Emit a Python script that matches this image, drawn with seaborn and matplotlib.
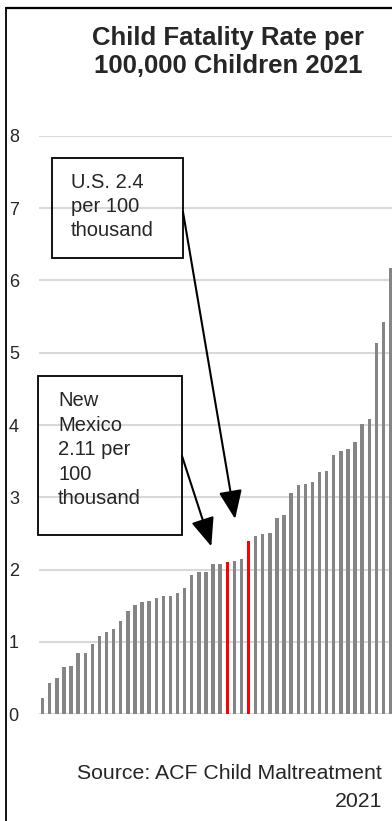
import matplotlib
matplotlib.use("Agg")
import matplotlib.pyplot as plt
from matplotlib.patches import Rectangle
from matplotlib.lines import Line2D
import seaborn as sns
import pandas as pd

# Child fatality rate per 100,000 children, 2021, sorted ascending
rank = list(range(1, 51))
rates = [0.22, 0.43, 0.50, 0.65, 0.67, 0.85, 0.85, 0.97, 1.08, 1.14,
         1.18, 1.29, 1.43, 1.51, 1.55, 1.57, 1.60, 1.64, 1.64, 1.68,
         1.74, 1.93, 1.96, 1.96, 2.07, 2.08, 2.11, 2.12, 2.15, 2.4,
         2.46, 2.49, 2.51, 2.71, 2.76, 3.06, 3.17, 3.18, 3.21, 3.35,
         3.36, 3.59, 3.64, 3.67, 3.76, 4.01, 4.08, 5.13, 5.43, 6.17]
nm_rank = 27   # New Mexico
us_rank = 30   # U.S. overall
y_ticks = [0, 1, 2, 3, 4, 5, 6, 7, 8]

title = "Child Fatality Rate per\n100,000 Children 2021"
us_label = "U.S. 2.4\nper 100\nthousand"
nm_label = "New\nMexico\n2.11 per\n100\nthousand"
source = "Source: ACF Child Maltreatment\n2021"

GRAY = "#858585"
RED = "#FF0000"

sns.set_style("white")
plt.rcParams["font.family"] = ["Liberation Sans", "DejaVu Sans"]

W, H = 392, 821
fig = plt.figure(figsize=(W / 100, H / 100), dpi=100)


def fx(px):
    return px / W


def fy(py):
    return 1 - py / H


ax = fig.add_axes([fx(39), fy(714), fx(392) - fx(39), fy(136) - fy(714)])

df = pd.DataFrame({"rank": [str(r) for r in rank], "rate": rates})
colors = {str(r): (RED if r in (nm_rank, us_rank) else GRAY) for r in rank}
sns.barplot(data=df, x="rank", y="rate", hue="rank", palette=colors,
            legend=False, dodge=False, width=0.48, saturation=1,
            linewidth=0, ax=ax, zorder=2)

ax.set_ylim(0, 8)
ax.set_xlim(-0.52, 49.2)
ax.set_yticks(y_ticks)
ax.set_yticklabels([str(t) for t in y_ticks], fontsize=13)
ax.tick_params(axis="y", length=0, pad=14.5)
ax.set_xticks([])
ax.set_xlabel("")
ax.set_ylabel("")
ax.yaxis.grid(True, color="#d9d9d9", lw=1.5)
ax.set_axisbelow(True)
for s in ax.spines.values():
    s.set_visible(False)

# outer frame (left and top edges)
fig.add_artist(Line2D([fx(6), fx(6)], [fy(8), 0], color="black", lw=1.3,
                      transform=fig.transFigure))
fig.add_artist(Line2D([fx(6), 1], [fy(8), fy(8)], color="black", lw=1.6,
                      transform=fig.transFigure))

# title
fig.text(fx(228), fy(52), title, ha="center", va="center", fontsize=18.5,
         fontweight="bold", linespacing=1.2)

# callout boxes
for (x0, y0, x1, y1) in [(52, 158, 183, 258), (38, 376, 182, 535)]:
    fig.add_artist(Rectangle((fx(x0), fy(y1)), fx(x1) - fx(x0), fy(y0) - fy(y1),
                             fill=False, ec="black", lw=1.3,
                             transform=fig.transFigure))
fig.text(fx(71), fy(173), us_label, ha="left", va="top", fontsize=14.5,
         linespacing=1.35)
fig.text(fx(58), fy(391), nm_label, ha="left", va="top", fontsize=14.5,
         linespacing=1.37)

# arrows pointing at the highlighted bars
us_i = rank.index(us_rank)
nm_i = rank.index(nm_rank)
arrow = dict(arrowstyle="-|>,head_length=1.1,head_width=0.45", color="black",
             lw=1.5, shrinkA=0, shrinkB=0, mutation_scale=16)
ax.annotate("", xy=(us_i - 1.9, rates[us_i] + 0.3), xycoords="data",
            xytext=(183, H - 212), textcoords="figure pixels",
            arrowprops=arrow)
ax.annotate("", xy=(nm_i - 2.25, rates[nm_i] + 0.21), xycoords="data",
            xytext=(182, H - 456), textcoords="figure pixels",
            arrowprops=arrow)

# source note
fig.text(fx(382), fy(764), source, ha="right", va="top", fontsize=15.3,
         linespacing=1.6, multialignment="right")

fig.savefig("out.png", dpi=100)
